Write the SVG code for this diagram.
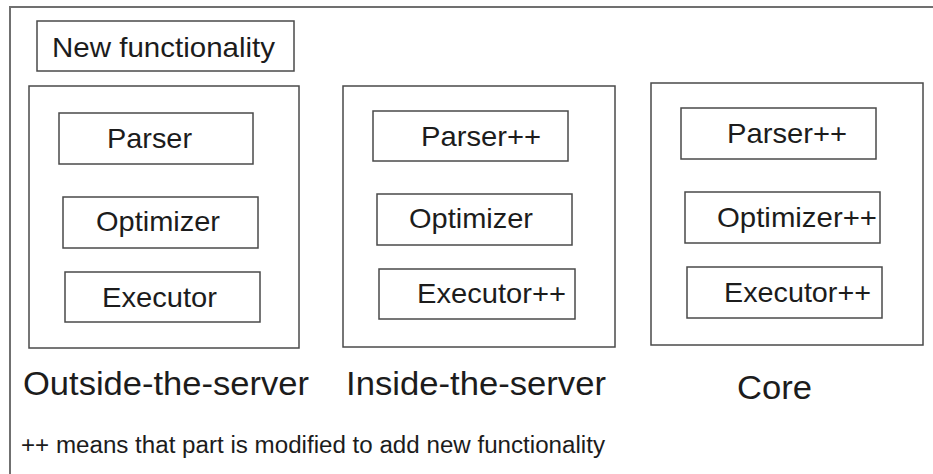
<svg xmlns="http://www.w3.org/2000/svg" width="933" height="474" viewBox="0 0 933 474">
<style>
.bg{fill:#ffffff}
.frame{stroke:#707070;stroke-width:2;fill:none}
.box{fill:#ffffff;stroke:#4a4a4a;stroke-width:1.5}
.lbl{font-family:"Liberation Sans",Arial,sans-serif;fill:#1c1c1c;font-size:28px}
.big{font-family:"Liberation Sans",Arial,sans-serif;fill:#1c1c1c;font-size:33px}
.note{font-family:"Liberation Sans",Arial,sans-serif;fill:#1c1c1c;font-size:23px}
</style>
<rect class="bg" x="0" y="0" width="933" height="474"/>
<g id="frame">
<line class="frame" x1="10" y1="7" x2="933" y2="7"/>
<line class="frame" x1="10" y1="6" x2="10" y2="474"/>
</g>
<g id="new-functionality">
<rect class="box" x="37" y="21" width="257" height="50"/>
<text class="lbl" x="52" y="57" textLength="223" lengthAdjust="spacingAndGlyphs">New functionality</text>
</g>
<g id="outside">
<rect class="box" x="29" y="86" width="270" height="262"/>
<g id="outside-parser">
<rect class="box" x="59" y="113" width="194" height="51"/>
<text class="lbl" x="107" y="148" textLength="85" lengthAdjust="spacingAndGlyphs">Parser</text>
</g>
<g id="outside-optimizer">
<rect class="box" x="63" y="197" width="195" height="51"/>
<text class="lbl" x="96" y="231" textLength="124" lengthAdjust="spacingAndGlyphs">Optimizer</text>
</g>
<g id="outside-executor">
<rect class="box" x="65" y="272" width="195" height="50"/>
<text class="lbl" x="102" y="307" textLength="115" lengthAdjust="spacingAndGlyphs">Executor</text>
</g>
<text class="big" x="23" y="395" textLength="286" lengthAdjust="spacingAndGlyphs">Outside-the-server</text>
</g>
<g id="inside">
<rect class="box" x="343" y="86" width="272" height="261"/>
<g id="inside-parser">
<rect class="box" x="373" y="111" width="195" height="50"/>
<text class="lbl" x="421" y="146" textLength="120" lengthAdjust="spacingAndGlyphs">Parser++</text>
</g>
<g id="inside-optimizer">
<rect class="box" x="377" y="194" width="195" height="51"/>
<text class="lbl" x="409" y="228" textLength="124" lengthAdjust="spacingAndGlyphs">Optimizer</text>
</g>
<g id="inside-executor">
<rect class="box" x="379" y="269" width="196" height="50"/>
<text class="lbl" x="417" y="303" textLength="149" lengthAdjust="spacingAndGlyphs">Executor++</text>
</g>
<text class="big" x="346" y="395" textLength="260" lengthAdjust="spacingAndGlyphs">Inside-the-server</text>
</g>
<g id="core">
<rect class="box" x="651" y="83" width="272" height="262"/>
<g id="core-parser">
<rect class="box" x="681" y="108" width="195" height="51"/>
<text class="lbl" x="727" y="143" textLength="120" lengthAdjust="spacingAndGlyphs">Parser++</text>
</g>
<g id="core-optimizer">
<rect class="box" x="685" y="192" width="195" height="51"/>
<text class="lbl" x="717" y="227" textLength="160" lengthAdjust="spacingAndGlyphs">Optimizer++</text>
</g>
<g id="core-executor">
<rect class="box" x="687" y="267" width="195" height="51"/>
<text class="lbl" x="724" y="302" textLength="147" lengthAdjust="spacingAndGlyphs">Executor++</text>
</g>
<text class="big" x="737" y="399" textLength="75" lengthAdjust="spacingAndGlyphs">Core</text>
</g>
<g id="connectors"></g>
<text class="note" x="21" y="453" textLength="584" lengthAdjust="spacingAndGlyphs">++ means that part is modified to add new functionality</text>
</svg>
